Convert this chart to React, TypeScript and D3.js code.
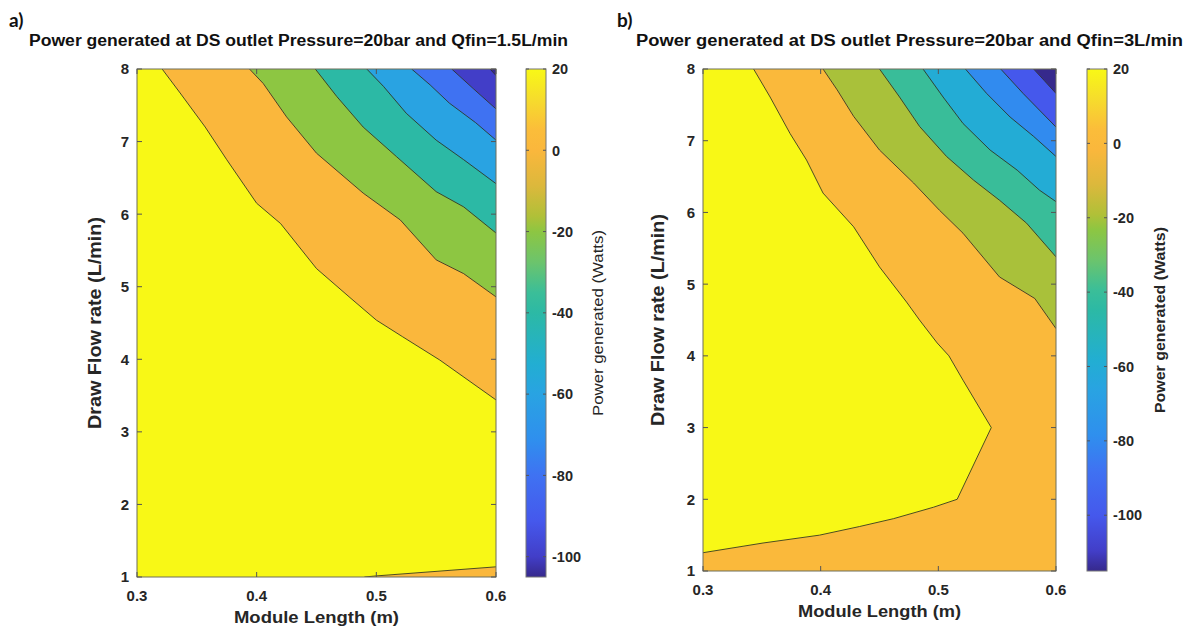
import React from 'react';
import * as d3 from 'd3';

type Pt = [number, number];

// ---------- axes / scale data ----------
const X_DOMAIN: [number, number] = [0.3, 0.6];
const Y_DOMAIN: [number, number] = [1, 8];
const X_TICKS = [0.3, 0.4, 0.5, 0.6];
const Y_TICKS = [1, 2, 3, 4, 5, 6, 7, 8];
const CBAR_TICKS = [20, 0, -20, -40, -60, -80, -100];
const CLIM_A: [number, number] = [-105, 20];
const CLIM_B: [number, number] = [-115, 20];

// ---------- panel a contour lines (Module length, Draw flow) ----------
const A_L20_UPPER: Pt[] = [[0.321, 8], [0.336, 7.67], [0.357, 7.2], [0.375, 6.75], [0.4, 6.15], [0.42, 5.87], [0.45, 5.25], [0.478, 4.85], [0.5, 4.54], [0.522, 4.31], [0.553, 3.99], [0.6, 3.44]];
const A_L20_LOWER: Pt[] = [[0.6, 1.14], [0.5, 1.015], [0.49, 1]];
const A_L0: Pt[] = [[0.394, 8], [0.4055, 7.8], [0.425, 7.34], [0.45, 6.84], [0.489, 6.29], [0.52, 5.92], [0.55, 5.37], [0.573, 5.18], [0.6, 4.86]];
const A_LM20: Pt[] = [[0.449, 8], [0.467, 7.62], [0.489, 7.2], [0.517, 6.79], [0.55, 6.31], [0.573, 6.1], [0.6, 5.74]];
const A_LM40: Pt[] = [[0.492, 8], [0.506, 7.76], [0.525, 7.39], [0.55, 7.02], [0.573, 6.75], [0.6, 6.42]];
const A_LM60: Pt[] = [[0.5295, 8], [0.545, 7.78], [0.561, 7.53], [0.583, 7.26], [0.6, 7.02]];
const A_LM80: Pt[] = [[0.563, 8], [0.581, 7.73], [0.6, 7.45]];
const A_LM100: Pt[] = [[0.595, 8], [0.6, 7.91]];

// ---------- panel b contour lines ----------
const B_L20: Pt[] = [[0.343, 8], [0.357, 7.61], [0.374, 7.1], [0.388, 6.73], [0.402, 6.27], [0.428, 5.8], [0.45, 5.24], [0.473, 4.75], [0.484, 4.5], [0.499, 4.18], [0.509, 4.0], [0.521, 3.66], [0.545, 3.0], [0.516, 2.0], [0.496, 1.89], [0.462, 1.73], [0.433, 1.62], [0.399, 1.5], [0.351, 1.39], [0.3, 1.255]];
const B_L0: Pt[] = [[0.402, 8], [0.414, 7.71], [0.428, 7.34], [0.45, 6.87], [0.479, 6.41], [0.501, 6.03], [0.521, 5.71], [0.552, 5.1], [0.582, 4.8], [0.6, 4.38]];
const B_LM20: Pt[] = [[0.45, 8], [0.467, 7.61], [0.484, 7.2], [0.507, 6.78], [0.53, 6.45], [0.552, 6.17], [0.575, 5.85], [0.6, 5.38]];
const B_LM40: Pt[] = [[0.487, 8], [0.504, 7.61], [0.521, 7.24], [0.544, 6.87], [0.567, 6.59], [0.586, 6.31], [0.6, 6.15]];
const B_LM60: Pt[] = [[0.523, 8], [0.541, 7.66], [0.561, 7.33], [0.581, 7.06], [0.6, 6.78]];
const B_LM80: Pt[] = [[0.553, 8], [0.572, 7.66], [0.6, 7.19]];
const B_LM100: Pt[] = [[0.581, 8], [0.59, 7.84], [0.6, 7.66]];

type Contour = { level: number; pieces: Pt[][] };

const CONTOURS_A: Contour[] = [
  { level: 20, pieces: [A_L20_UPPER, A_L20_LOWER] },
  { level: 0, pieces: [A_L0] },
  { level: -20, pieces: [A_LM20] },
  { level: -40, pieces: [A_LM40] },
  { level: -60, pieces: [A_LM60] },
  { level: -80, pieces: [A_LM80] },
  { level: -100, pieces: [A_LM100] },
];
const CONTOURS_B: Contour[] = [
  { level: 20, pieces: [B_L20] },
  { level: 0, pieces: [B_L0] },
  { level: -20, pieces: [B_LM20] },
  { level: -40, pieces: [B_LM40] },
  { level: -60, pieces: [B_LM60] },
  { level: -80, pieces: [B_LM80] },
  { level: -100, pieces: [B_LM100] },
];

// ---------- colormap (parula-like, as in the picture) ----------
const CMAP_POS = [0.0, 0.04, 0.11, 0.2, 0.27, 0.36, 0.42, 0.52, 0.56, 0.62, 0.68, 0.71, 0.77, 0.84, 0.88, 0.94, 1.0];
const CMAP_COL = ['#36298c', '#423ec8', '#4558ec', '#3f72f2', '#2f8fee', '#29a3e2', '#22aed2', '#2cb9a5', '#3bbe98', '#6cc46c', '#8dc642', '#b0c038', '#dcb83c', '#fab73c', '#fbbd3a', '#f6dc2c', '#f8f816'];
const cmap = d3.scaleLinear<string>().domain(CMAP_POS).range(CMAP_COL).interpolate(d3.interpolateRgb).clamp(true);

const FONT = "'Liberation Sans', Arial, Helvetica, sans-serif";

type PanelCfg = {
  id: string;
  left: number; right: number; top: number; bottom: number;
  cbarX: number; cbarW: number;
  clim: [number, number];
  contours: Contour[];
  title: string; titleX: number; titleLen: number;
  tag: string; tagX: number;
  ylabelX: number; xlabelLen: number;
  cbarLabelX: number; cbarLabelWeight: string; cbarLabelSize: number; cbarLabelLen: number;
};

function Panel({ cfg }: { cfg: PanelCfg }) {
  const { left, right, top, bottom, clim } = cfg;
  const x = d3.scaleLinear().domain(X_DOMAIN).range([left, right]);
  const y = d3.scaleLinear().domain(Y_DOMAIN).range([bottom, top]);
  const cy = d3.scaleLinear().domain(clim).range([bottom, top]);
  const frac = (v: number) => (v - clim[0]) / (clim[1] - clim[0]);
  const line = d3.line<Pt>().x(d => x(d[0])).y(d => y(d[1]));

  const [x0, x1] = X_DOMAIN;
  const [y0, y1] = Y_DOMAIN;
  const eps = 1e-6;
  const perim = (p: Pt) => {
    const [px, py] = p;
    if (Math.abs(py - y1) < eps) return (px - x0) / (x1 - x0);
    if (Math.abs(px - x1) < eps) return 1 + (y1 - py) / (y1 - y0);
    if (Math.abs(py - y0) < eps) return 2 + (x1 - px) / (x1 - x0);
    return 3 + (py - y0) / (y1 - y0);
  };
  const corner = (c: number): Pt => {
    const k = ((c % 4) + 4) % 4;
    if (k === 1) return [x1, y1];
    if (k === 2) return [x1, y0];
    if (k === 3) return [x0, y0];
    return [x0, y1];
  };
  const region = (pieces: Pt[][]) => {
    const pts: Pt[] = [];
    pieces.forEach((piece, k) => {
      const next = pieces[(k + 1) % pieces.length];
      pts.push(...piece);
      const pe = perim(piece[piece.length - 1]);
      let ps = perim(next[0]);
      if (ps <= pe) ps += 4;
      for (let c = Math.floor(pe) + 1; c < ps; c++) pts.push(corner(c));
    });
    return pts;
  };

  const sorted = [...cfg.contours].sort((a, b) => a.level - b.level);
  const tickLen = 5;
  const gradId = `grad-${cfg.id}`;
  const midY = (top + bottom) / 2;

  return (
    <g>
      <defs>
        <linearGradient id={gradId} x1="0" y1="1" x2="0" y2="0">
          {CMAP_POS.map((p, i) => (
            <stop key={i} offset={p} stopColor={CMAP_COL[i]} />
          ))}
        </linearGradient>
        <clipPath id={`clip-${cfg.id}`}>
          <rect x={left} y={top} width={right - left} height={bottom - top} />
        </clipPath>
      </defs>

      {/* tag and title */}
      <text x={cfg.tagX} y={27} fontFamily="Lato, 'Open Sans', sans-serif" fontWeight="bold" fontSize={19} fill="#111">{cfg.tag}</text>
      <text x={cfg.titleX} y={46} fontFamily={FONT} fontWeight="bold" fontSize={16} fill="#111" textLength={cfg.titleLen} lengthAdjust="spacingAndGlyphs">{cfg.title}</text>

      {/* filled contours */}
      <g clipPath={`url(#clip-${cfg.id})`}>
        <rect x={left} y={top} width={right - left} height={bottom - top} fill={cmap(0)} />
        {sorted.map(c => (
          <path key={`f${c.level}`} d={line(region(c.pieces)) + 'Z'} fill={cmap(frac(c.level))} stroke={cmap(frac(c.level))} strokeWidth={0.5} />
        ))}
        {sorted.map(c =>
          c.pieces.map((pc, i) => (
            <path key={`l${c.level}-${i}`} d={line(pc) || ''} fill="none" stroke="#2e2e24" strokeWidth={1} strokeOpacity={0.85} />
          ))
        )}
      </g>

      {/* axes box */}
      <rect x={left} y={top} width={right - left} height={bottom - top} fill="none" stroke="#6e6e5a" strokeWidth={1} />
      {X_TICKS.map(t => (
        <g key={`xt${t}`}>
          <line x1={x(t)} x2={x(t)} y1={bottom} y2={bottom - tickLen} stroke="#555" />
          <line x1={x(t)} x2={x(t)} y1={top} y2={top + tickLen} stroke="#555" />
          <text x={x(t)} y={bottom + 24} textAnchor="middle" fontFamily={FONT} fontWeight="bold" fontSize={15} fill="#262626">{d3.format('.1f')(t)}</text>
        </g>
      ))}
      {Y_TICKS.map(t => (
        <g key={`yt${t}`}>
          <line x1={left} x2={left + tickLen} y1={y(t)} y2={y(t)} stroke="#555" />
          <line x1={right} x2={right - tickLen} y1={y(t)} y2={y(t)} stroke="#555" />
          <text x={left - 8} y={y(t)} dy="0.36em" textAnchor="end" fontFamily={FONT} fontWeight="bold" fontSize={15} fill="#262626">{t}</text>
        </g>
      ))}
      <text x={(left + right) / 2} y={bottom + 46} textAnchor="middle" fontFamily={FONT} fontWeight="bold" fontSize={17} fill="#262626" textLength={cfg.xlabelLen} lengthAdjust="spacingAndGlyphs">Module Length (m)</text>
      <text transform={`translate(${cfg.ylabelX},${midY}) rotate(-90)`} textAnchor="middle" dy="0.36em" fontFamily={FONT} fontWeight="bold" fontSize={18} fill="#262626" textLength={212} lengthAdjust="spacingAndGlyphs">Draw Flow rate (L/min)</text>

      {/* colorbar */}
      <rect x={cfg.cbarX} y={top} width={cfg.cbarW} height={bottom - top} fill={`url(#${gradId})`} stroke="#777" strokeWidth={1} />
      {CBAR_TICKS.filter(t => t >= clim[0] && t <= clim[1] + 0.5).map(t => (
        <g key={`ct${t}`}>
          <line x1={cfg.cbarX + cfg.cbarW} x2={cfg.cbarX + cfg.cbarW - 3} y1={cy(t)} y2={cy(t)} stroke="#555" />
          <line x1={cfg.cbarX} x2={cfg.cbarX + 3} y1={cy(t)} y2={cy(t)} stroke="#555" />
          <text x={cfg.cbarX + cfg.cbarW + 6} y={cy(t)} dy="0.36em" fontFamily={FONT} fontWeight="bold" fontSize={14.5} fill="#262626">{t}</text>
        </g>
      ))}
      <text transform={`translate(${cfg.cbarLabelX},${midY}) rotate(-90)`} textAnchor="middle" dy="0.36em" fontFamily={FONT} fontWeight={cfg.cbarLabelWeight} fontSize={cfg.cbarLabelSize} fill="#262626" textLength={cfg.cbarLabelLen} lengthAdjust="spacingAndGlyphs">Power generated (Watts)</text>
    </g>
  );
}

const PANEL_A: PanelCfg = {
  id: 'a', left: 137, right: 496, top: 69, bottom: 577,
  cbarX: 526, cbarW: 20, clim: CLIM_A, contours: CONTOURS_A,
  title: 'Power generated at DS outlet Pressure=20bar and Qfin=1.5L/min', titleX: 29, titleLen: 539,
  tag: 'a)', tagX: 9, ylabelX: 95, xlabelLen: 165,
  cbarLabelX: 598, cbarLabelWeight: 'normal', cbarLabelSize: 14, cbarLabelLen: 186,
};
const PANEL_B: PanelCfg = {
  id: 'b', left: 703, right: 1056, top: 69, bottom: 571,
  cbarX: 1087, cbarW: 20, clim: CLIM_B, contours: CONTOURS_B,
  title: 'Power generated at DS outlet Pressure=20bar and Qfin=3L/min', titleX: 636, titleLen: 547,
  tag: 'b)', tagX: 617, ylabelX: 658, xlabelLen: 163,
  cbarLabelX: 1160, cbarLabelWeight: 'bold', cbarLabelSize: 15, cbarLabelLen: 186,
};

export default function App() {
  return (
    <svg width={1193} height={634} style={{ position: 'absolute', left: 0, top: 0, background: '#fff' }}>
      <rect x={0} y={0} width={1193} height={634} fill="#fff" />
      <Panel cfg={PANEL_A} />
      <Panel cfg={PANEL_B} />
    </svg>
  );
}
